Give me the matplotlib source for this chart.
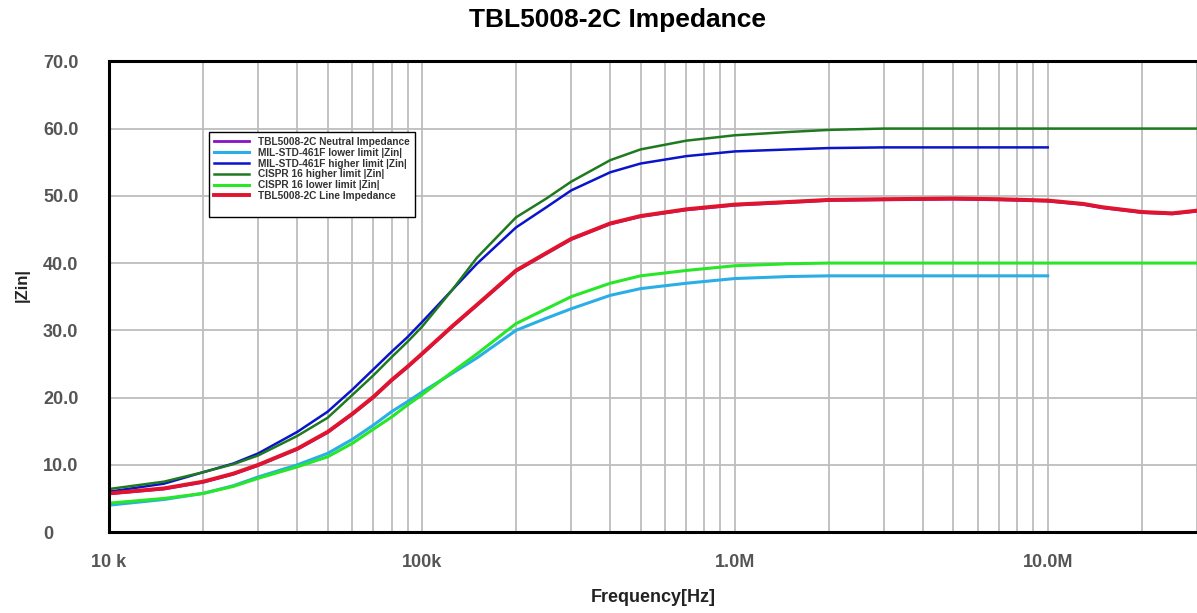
import numpy as np
import matplotlib.pyplot as plt
from matplotlib.lines import Line2D
from matplotlib.ticker import FixedLocator, LogLocator, NullFormatter

plt.rcParams['font.family'] = ['Liberation Sans', 'DejaVu Sans']

# frequency points (Hz)
freq = [1e4, 1.5e4, 2e4, 2.5e4, 3e4, 4e4, 5e4, 6e4, 7e4, 8e4, 9e4, 1e5, 1.25e5, 1.5e5, 2e5,
        2.5e5, 3e5, 4e5, 5e5, 7e5, 1e6, 1.5e6, 2e6, 3e6, 5e6, 7e6, 1e7]
freq_ext = [1.3e7, 1.5e7, 2e7, 2.5e7, 3e7]

# limit curves |Zin| (ohm)
mil_lower = [4.0, 4.85, 5.75, 6.9, 8.2, 10.0, 11.7, 13.8, 15.9, 17.9, 19.4, 20.8, 23.6, 25.9, 30.0,
             31.8, 33.2, 35.2, 36.2, 37.0, 37.7, 38.0, 38.1, 38.1, 38.1, 38.1, 38.1]
mil_higher = [6.0, 7.2, 8.9, 10.2, 11.7, 14.9, 17.9, 21.2, 24.2, 26.8, 29.0, 31.2, 36.0, 39.9, 45.3,
              48.3, 50.8, 53.5, 54.8, 55.9, 56.6, 56.9, 57.1, 57.2, 57.2, 57.2, 57.2]
cispr_higher = [6.4, 7.5, 8.9, 10.1, 11.4, 14.3, 17.0, 20.4, 23.3, 26.0, 28.3, 30.5, 36.0, 40.8, 46.8,
                49.6, 52.1, 55.3, 56.9, 58.2, 59.0, 59.5, 59.8, 60.0, 60.0, 60.0, 60.0,
                60.0, 60.0, 60.0, 60.0, 60.0]
cispr_lower = [4.3, 5.0, 5.75, 6.8, 8.0, 9.7, 11.2, 13.2, 15.3, 17.1, 18.9, 20.4, 23.8, 26.5, 31.0,
               33.2, 35.0, 37.0, 38.1, 38.9, 39.6, 39.9, 40.0, 40.0, 40.0, 40.0, 40.0,
               40.0, 40.0, 40.0, 40.0, 40.0]

# measured impedance of the unit
neutral_imp = [5.7, 6.4, 7.4, 8.6, 9.9, 12.3, 14.8, 17.5, 20.0, 22.5, 24.5, 26.4, 30.5, 33.7, 38.8,
               41.4, 43.5, 45.8, 46.9, 47.9, 48.6, 49.0, 49.3, 49.4, 49.5, 49.4, 49.2,
               48.7, 48.2, 47.5, 47.3, 47.7]
line_imp = [5.75, 6.5, 7.5, 8.7, 10.0, 12.4, 14.9, 17.6, 20.1, 22.6, 24.6, 26.5, 30.6, 33.8, 38.9,
            41.5, 43.6, 45.9, 47.0, 48.0, 48.7, 49.1, 49.4, 49.5, 49.6, 49.5, 49.3,
            48.8, 48.3, 47.6, 47.4, 47.8]

freq_all = freq + freq_ext

fig = plt.figure(figsize=(11.97, 6.13), dpi=100)
ax = fig.add_axes([0.091, 0.132, 0.909, 0.768])

ax.plot(freq_all, neutral_imp, color='#8a10c8', lw=2.0, label='TBL5008-2C Neutral Impedance')
ax.plot(freq, mil_lower, color='#2aaee6', lw=2.2, label='MIL-STD-461F lower limit |Zin|')
ax.plot(freq, mil_higher, color='#0a14c8', lw=1.8, label='MIL-STD-461F higher limit |Zin|')
ax.plot(freq_all, cispr_higher, color='#1f7a1f', lw=1.8, label='CISPR 16 higher limit |Zin|')
ax.plot(freq_all, cispr_lower, color='#28e628', lw=2.2, label='CISPR 16 lower limit |Zin|')
ax.plot(freq_all, line_imp, color='#e0142c', lw=2.8, label='TBL5008-2C Line Impedance')

ax.set_xscale('log')
ax.set_xlim(1e4, 3e7)
ax.set_ylim(0, 70)

ax.xaxis.set_major_locator(FixedLocator([1e4, 1e5, 1e6, 1e7]))
ax.set_xticklabels(['10 k', '100k', '1.0M', '10.0M'])
ax.xaxis.set_minor_locator(LogLocator(base=10, subs=np.arange(2, 10)))
ax.xaxis.set_minor_formatter(NullFormatter())
ax.set_yticks(np.arange(0, 71, 10))
ax.set_yticklabels(['0'] + [f'{v:.1f}' for v in range(10, 71, 10)])

ax.grid(True, which='both', axis='x', color='#bdbdbd', lw=1.3)
ax.grid(True, which='major', axis='y', color='#bdbdbd', lw=1.3)
ax.set_axisbelow(True)

ax.tick_params(which='both', length=0)
ax.tick_params(axis='x', pad=16, labelsize=13, labelcolor='#555555')
ax.tick_params(axis='y', pad=47.5, labelsize=13, labelcolor='#555555')
for lbl in ax.get_xticklabels() + ax.get_yticklabels():
    lbl.set_fontweight('bold')
for lbl in ax.get_yticklabels():
    lbl.set_horizontalalignment('left')

for side in ['left', 'bottom', 'top']:
    ax.spines[side].set_linewidth(2.2)
    ax.spines[side].set_color('black')
ax.spines['right'].set_visible(False)

ax.set_xlabel('Frequency[Hz]', fontsize=13, fontweight='bold', color='#222222', labelpad=13)
ax.set_ylabel('|Zin|', fontsize=12, fontweight='bold', color='#222222')
ax.yaxis.set_label_coords(-0.073, 0.525)
fig.suptitle('TBL5008-2C Impedance', x=0.516, y=0.987, fontsize=19, fontweight='bold')

handles, labels = ax.get_legend_handles_labels()
handles.append(Line2D([], [], color='none'))
labels.append(' ')
leg = ax.legend(handles, labels, loc='upper left', bbox_to_anchor=(0.087, 0.861),
                fancybox=False, edgecolor='black', framealpha=1, handlelength=3.5,
                prop={'weight': 'bold', 'size': 7.3}, labelspacing=0.08,
                borderpad=0.5, handletextpad=0.9)
leg.get_frame().set_linewidth(1.0)
for t in leg.get_texts():
    t.set_color('#333333')

fig.savefig('out.png', dpi=100)
